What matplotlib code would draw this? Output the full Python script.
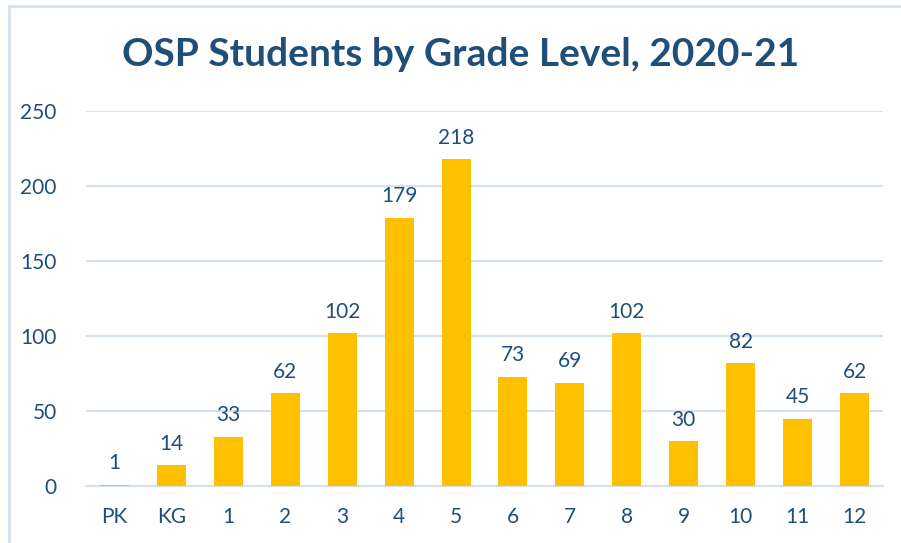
import matplotlib
matplotlib.use("Agg")
import matplotlib.pyplot as plt
from matplotlib.patches import Rectangle

grades = ["PK", "KG", "1", "2", "3", "4", "5", "6", "7", "8", "9", "10", "11", "12"]
students = [1, 14, 33, 62, 102, 179, 218, 73, 69, 102, 30, 82, 45, 62]
yticks = [0, 50, 100, 150, 200, 250]

plt.rcParams['font.family'] = ['Lato', 'DejaVu Sans']
navy = "#1F4E79"
gold = "#FFC000"
grid = "#D6E1F0"

fig = plt.figure(figsize=(9.01, 5.43), dpi=100)
fig.patch.set_facecolor("white")
fig.patches.append(Rectangle((9/901, -0.2), 1.5, 1 - 6/543 + 0.2, transform=fig.transFigure,
                             fill=False, edgecolor=grid, linewidth=2))

ax = fig.add_axes([86/901, 57/543, 797/901, 375/543])
x = range(len(grades))
bars = ax.bar(x, students, width=0.51, color=gold, zorder=3)
for xi, v in zip(x, students):
    ax.annotate(str(v), (xi, v), xytext=(0, 8), textcoords="offset points",
                ha="center", va="bottom", color=navy, fontsize=15)

ax.set_xlim(-0.5, len(grades) - 0.5)
ax.set_ylim(0, 250)
ax.set_yticks(yticks)
ax.set_xticks(list(x))
ax.set_xticklabels(grades)
ax.tick_params(axis="both", length=0, labelcolor=navy, labelsize=15)
ax.tick_params(axis="x", pad=15)
ax.tick_params(axis="y", pad=21)
for lbl in ax.get_yticklabels():
    lbl.set_horizontalalignment("right")
ax.yaxis.grid(True, color=grid, linewidth=1.5, zorder=0)
for s in ["top", "right", "left"]:
    ax.spines[s].set_visible(False)
ax.spines["bottom"].set_color(grid)
ax.spines["bottom"].set_linewidth(1.5)

fig.text(461/901, 1 - 54/543, "OSP Students by Grade Level, 2020-21", ha="center", va="center",
         fontsize=28, fontweight="bold", color=navy)

fig.savefig("out.png", dpi=100)
